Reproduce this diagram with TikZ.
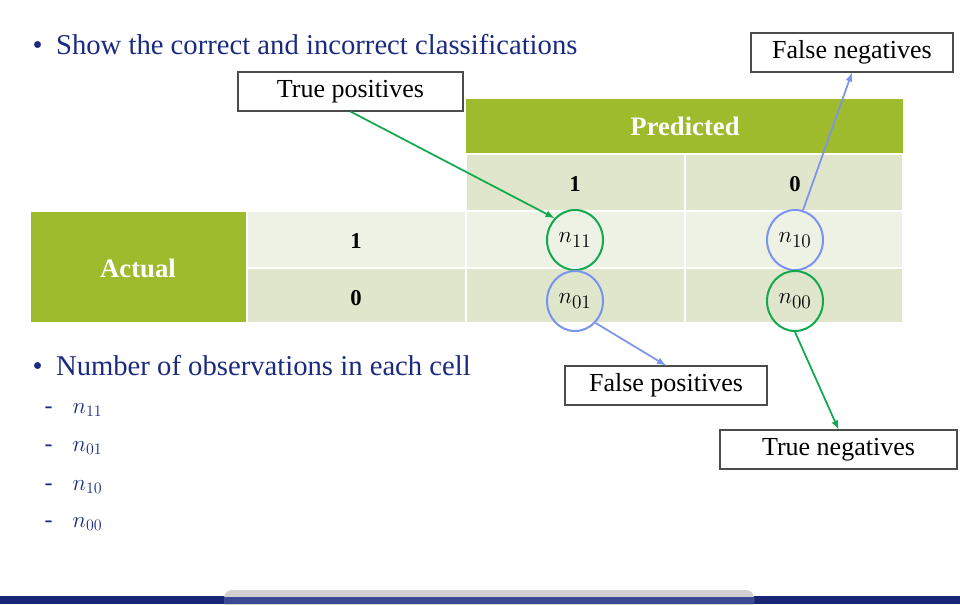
\documentclass[tikz,border=0pt]{standalone}
\usetikzlibrary{shapes.geometric}
\usepackage{fontspec}
\setmainfont{Liberation Serif}
\begin{document}
\begin{tikzpicture}[x=0.75pt,y=-0.75pt,
  cellA/.style={fill=gA,draw=white,line width=1.5pt},
  cellB/.style={fill=gB,draw=white,line width=1.5pt},
  cellC/.style={fill=gC,draw=white,line width=1.5pt},
  lab/.style={draw=black!70,fill=white,line width=0.8pt,font=\fontsize{19.5}{22}\selectfont,inner sep=0pt},
  circG/.style={line width=1.5pt,ellipse,minimum width=42pt,minimum height=45pt,inner sep=0pt},
  arrG/.style={draw=cgreen,line width=1.3pt,-latex},
  arrB/.style={draw=cblue,line width=1.3pt,-latex},
  txt/.style={text=navy,anchor=west},
  hd/.style={text=white,font=\bfseries\fontsize{20}{22}\selectfont},
  dg/.style={font=\bfseries\fontsize{17}{19}\selectfont}]
\definecolor{gA}{HTML}{9EBB2E}
\definecolor{gB}{HTML}{DFE6CC}
\definecolor{gC}{HTML}{EEF2E4}
\definecolor{cgreen}{HTML}{12A84E}
\definecolor{cblue}{HTML}{7B93EC}
\definecolor{navy}{HTML}{1A2A80}
\useasboundingbox (0,0) rectangle (960,604);
% table
\fill[gA] (466,99) rectangle (903,153);
\node[hd] (pred) at (685,126) {Predicted};
\draw[cellB] (466,154) rectangle (685,211); \draw[cellB] (685,154) rectangle (903,211);
\node[dg] (p1) at (575,184) {1};
\node[dg] (p0) at (795,184) {0};
\draw[cellC] (247,211) rectangle (466,268); \draw[cellC] (466,211) rectangle (685,268); \draw[cellC] (685,211) rectangle (903,268);
\draw[cellB] (247,268) rectangle (466,323); \draw[cellB] (466,268) rectangle (685,323); \draw[cellB] (685,268) rectangle (903,323);
\draw[cellA] (30,211) rectangle (247,323);
\node[hd] (act) at (138,268) {Actual};
\node[dg] (a1) at (356,241) {1};
\node[dg] (a0) at (356,298) {0};
% circles
\node[circG,draw=cgreen] (n11) at (575,240) {\fontsize{19}{21}\selectfont$n_{11}$};
\node[circG,draw=cblue] (n10) at (795,240) {\fontsize{19}{21}\selectfont$n_{10}$};
\node[circG,draw=cblue] (n01) at (575,301) {\fontsize{19}{21}\selectfont$n_{01}$};
\node[circG,draw=cgreen] (n00) at (795,301) {\fontsize{19}{21}\selectfont$n_{00}$};
% labels
\node[lab,minimum width=168.75pt,minimum height=29.25pt] (tp) at (350.5,91.5) {True positives};
\node[lab,minimum width=151.5pt,minimum height=29.25pt] (fn) at (852,52.5) {False negatives};
\node[lab,minimum width=151.5pt,minimum height=29.25pt] (fp) at (666,385.5) {False positives};
\node[lab,minimum width=177.75pt,minimum height=29.25pt] (tn) at (838.5,449.5) {True negatives};
% arrows
\draw[arrG] (tp.south) -- (n11.north west);
\draw[arrB] (n10.75) -- (fn.south);
\draw[arrB] (n01.south east) -- (fp.north);
\draw[arrG] (n00.south) -- (tn.north);
% text
\node[txt,font=\fontsize{21.5}{24}\selectfont] (b1) at (28,45) {\textbullet\hspace{10pt}Show the correct and incorrect classifications};
\node[txt,font=\fontsize{21.5}{24}\selectfont] (b2) at (28,366) {\textbullet\hspace{10pt}Number of observations in each cell};
\node[txt,font=\fontsize{18}{20}\selectfont] (l1) at (40,410) {-\hspace{15pt}$n_{11}$};
\node[txt,font=\fontsize{18}{20}\selectfont] (l2) at (40,448) {-\hspace{15pt}$n_{01}$};
\node[txt,font=\fontsize{18}{20}\selectfont] (l3) at (40,487) {-\hspace{15pt}$n_{10}$};
\node[txt,font=\fontsize{18}{20}\selectfont] (l4) at (40,524) {-\hspace{15pt}$n_{00}$};
% bottom
\fill[navy!90!black] (0,596) rectangle (960,604);
\fill[black!18,rounded corners=6pt] (224,590) rectangle (754,610);
\fill[navy!85] (224,597) rectangle (754,604);
\end{tikzpicture}
\end{document}
